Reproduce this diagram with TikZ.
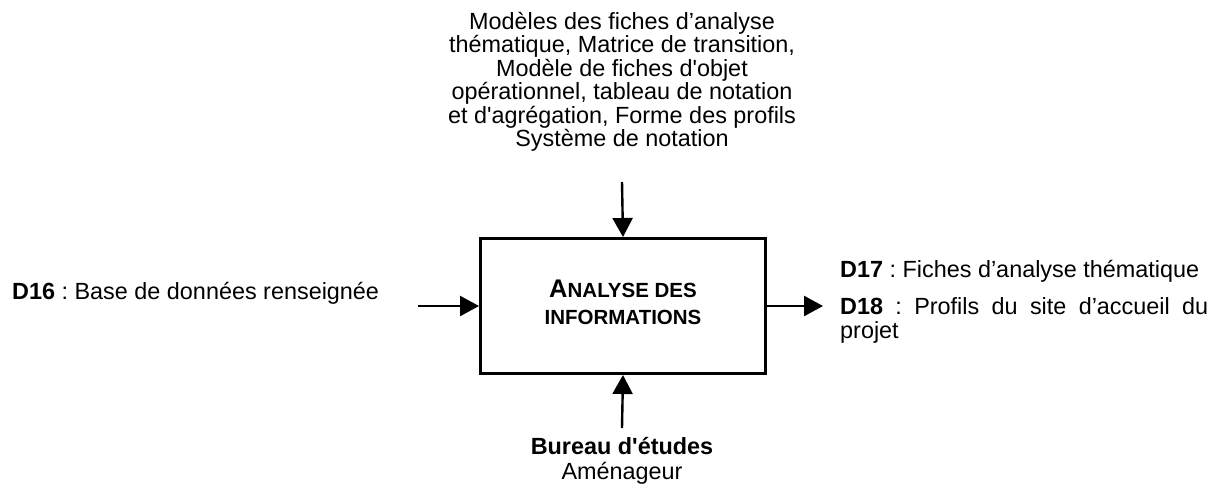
\documentclass[tikz,border=0pt]{standalone}
\usepackage{fontspec}
\setmainfont{Liberation Sans}
\usetikzlibrary{arrows.meta}
\newcommand\titlecap[1]{{\fontsize{25.5}{27}\selectfont #1}}
\frenchspacing
\begin{document}
\begin{tikzpicture}[x=1pt,y=-1pt,
  txt/.style={inner sep=0pt, font=\fontsize{23.4}{23.4}\selectfont},
  arr/.style={line width=2.4pt, -{Triangle[length=19pt,width=20pt]}},
  procbox/.style={draw, line width=3pt, minimum width=285pt, minimum height=135pt,
    inner sep=0pt, align=center, font=\fontsize{20.5}{27}\selectfont\bfseries}]
\useasboundingbox (0,0) rectangle (1216,485);
\node[procbox] (box) at (623,306) {\titlecap{A}NALYSE DES\\INFORMATIONS\rule[-7pt]{0pt}{0pt}};
% control (top)
\node[txt, align=center, anchor=north] (ctrl) at (622,12)
  {Modèles des fiches d’analyse\\
   thématique, Matrice de transition,\\
   Modèle de fiches d\textquotesingle objet\\
   opérationnel, tableau de notation\\
   et d\textquotesingle agrégation, Forme des profils\\
   Système de notation};
\coordinate (ctrlend) at (622,182);
\draw[arr] (ctrlend) -- (box.north);
% input (left)
\node[txt, anchor=base west] (input) at (12,299) {\textbf{D16} : Base de données renseignée};
\coordinate (inputend) at (418,306);
\draw[arr] (inputend) -- (box.west);
% outputs (right)
\coordinate (outend) at (823,306);
\draw[arr] (box.east) -- (outend);
\node[txt, anchor=base west] (d17) at (840,277) {\textbf{D17} : Fiches d’analyse thématique};
\node[txt, anchor=base west] (d18) at (840,314) {\makebox[368pt][s]{\textbf{D18} : Profils du site d’accueil du}};
\node[txt, anchor=base west] (d18b) at (840,338) {projet};
% mechanism (bottom)
\node[txt, anchor=base, font=\fontsize{23.4}{23.4}\selectfont\bfseries] (mech) at (622,454) {Bureau d\textquotesingle études};
\node[txt, anchor=base] (mech2) at (622,479) {Aménageur};
\coordinate (mechend) at (622,428);
\draw[arr] (mechend) -- (box.south);
\end{tikzpicture}
\end{document}
